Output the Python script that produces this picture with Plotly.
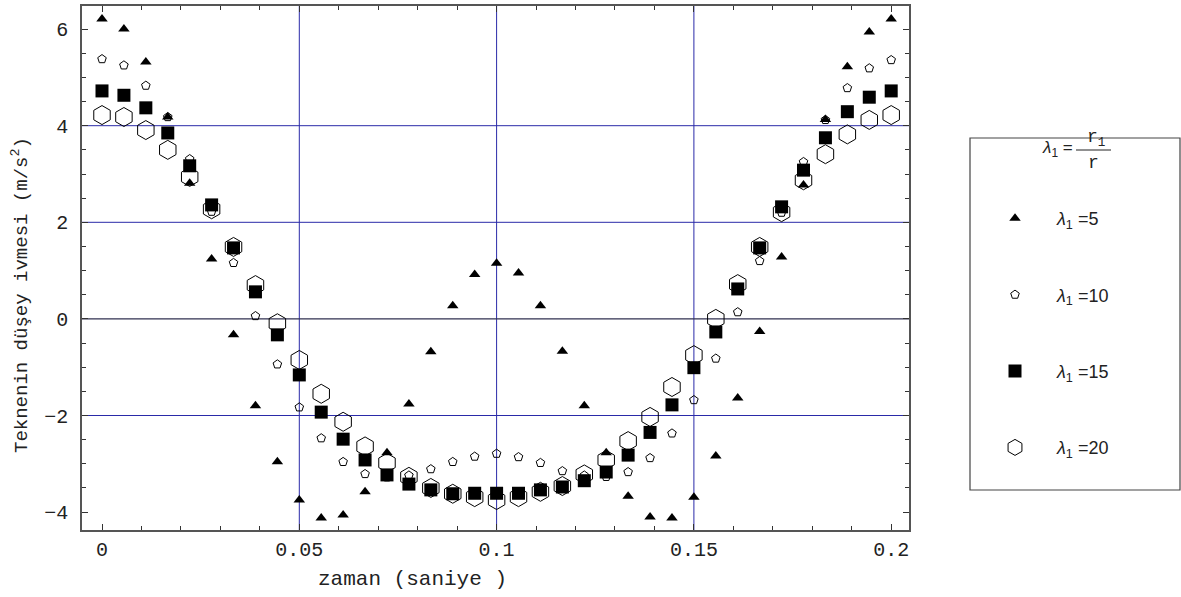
import plotly.graph_objects as go

N = 37
t = [round(i * 0.2 / 36, 6) for i in range(N)]

lam5 = [6.21, 6.00, 5.32, 4.18, 2.81, 1.24, -0.33, -1.80, -2.96, -3.75, -4.12, -4.06, -3.58,
        -2.77, -1.76, -0.68, 0.27, 0.92, 1.15, 0.95, 0.27, -0.67, -1.80, -2.77, -3.67, -4.10,
        -4.12, -3.69, -2.84, -1.64, -0.26, 1.28, 2.77, 4.13, 5.22, 5.94, 6.21]
lam10 = [5.38, 5.25, 4.83, 4.18, 3.31, 2.22, 1.16, 0.06, -0.94, -1.83, -2.47, -2.96, -3.21,
         -3.28, -3.24, -3.11, -2.96, -2.85, -2.79, -2.86, -2.98, -3.15, -3.24, -3.27, -3.17,
         -2.88, -2.37, -1.68, -0.82, 0.14, 1.20, 2.20, 3.25, 4.12, 4.78, 5.19, 5.36]
lam15 = [4.72, 4.63, 4.37, 3.85, 3.17, 2.36, 1.47, 0.56, -0.33, -1.16, -1.93, -2.49, -2.92,
         -3.23, -3.42, -3.54, -3.62, -3.61, -3.61, -3.61, -3.54, -3.48, -3.35, -3.17, -2.82,
         -2.35, -1.78, -1.01, -0.27, 0.62, 1.47, 2.32, 3.08, 3.75, 4.29, 4.59, 4.72]
lam20 = [4.22, 4.18, 3.91, 3.50, 2.94, 2.27, 1.49, 0.70, -0.09, -0.85, -1.55, -2.13, -2.64,
         -2.98, -3.27, -3.50, -3.62, -3.69, -3.75, -3.69, -3.58, -3.46, -3.22, -2.92, -2.53,
         -2.03, -1.41, -0.75, 0.00, 0.72, 1.49, 2.21, 2.87, 3.41, 3.82, 4.12, 4.22]

series_names = ["<i>λ</i><sub>1</sub> =5", "<i>λ</i><sub>1</sub> =10",
                "<i>λ</i><sub>1</sub> =15", "<i>λ</i><sub>1</sub> =20"]

x_ticks = [0, 0.05, 0.1, 0.15, 0.2]
x_tick_text = ["0", "0.05", "0.1", "0.15", "0.2"]
y_ticks = [-4, -2, 0, 2, 4, 6]
grid_x = [0.05, 0.1, 0.15]
grid_y = [-2, 2, 4]

x_title = "zaman (saniye )"
y_title = "Teknenin düşey ivmesi (m/s<sup>2</sup>)"

W, H = 1181, 597
L, R, T, B = 82, 909, 6, 530

fig = go.Figure()
styles = [
    dict(symbol="triangle-up", size=10, color="black", line=dict(width=0)),
    dict(symbol="pentagon-open", size=9, color="black", line=dict(width=1, color="black")),
    dict(symbol="square", size=13, color="black", line=dict(width=0)),
    dict(symbol="hexagon-open", size=19, color="black", line=dict(width=1, color="black")),
]
for i, (ys, name) in enumerate(zip([lam5, lam10, lam15, lam20], series_names)):
    fig.add_trace(go.Scatter(x=t, y=ys, mode="markers", name=name, marker=styles[i],
                             legendgroup=f"g{i}", showlegend=True))

grid_color = "#2a2aa8"
for gx in grid_x:
    fig.add_shape(type="line", xref="x", yref="paper", x0=gx, x1=gx, y0=0, y1=1,
                  line=dict(color=grid_color, width=1), layer="below")
for gy in grid_y:
    fig.add_shape(type="line", xref="paper", yref="y", x0=0, x1=1, y0=gy, y1=gy,
                  line=dict(color=grid_color, width=1), layer="below")
fig.add_shape(type="line", xref="paper", yref="y", x0=0, x1=1, y0=0, y1=0,
              line=dict(color="#303050", width=1.3), layer="below")

pw, ph = R - L, B - T
def px2x(p):
    return (p - L) / pw
def py2y(p):
    return (B - p) / ph

# legend frame
fig.add_shape(type="rect", xref="paper", yref="paper", x0=px2x(970), x1=px2x(1180),
              y0=py2y(490), y1=py2y(138), line=dict(color="#444444", width=1.2))
# legend title: lambda_1 = r_1 / r
fig.add_annotation(xref="paper", yref="paper", x=px2x(1075), y=py2y(149), xanchor="right",
                   yanchor="middle", showarrow=False,
                   text="<i>λ</i><sub>1</sub> =", font=dict(family="Liberation Sans", size=17, color="#222"))
fig.add_annotation(xref="paper", yref="paper", x=px2x(1096), y=py2y(138), xanchor="center",
                   yanchor="middle", showarrow=False,
                   text="r<sub>1</sub>", font=dict(family="Liberation Mono", size=18, color="#222"))
fig.add_annotation(xref="paper", yref="paper", x=px2x(1093), y=py2y(163), xanchor="center",
                   yanchor="middle", showarrow=False,
                   text="r", font=dict(family="Liberation Mono", size=18, color="#222"))
fig.add_shape(type="line", xref="paper", yref="paper", x0=px2x(1076), x1=px2x(1111),
              y0=py2y(150), y1=py2y(150), line=dict(color="#222", width=1))

fig.add_annotation(xref="paper", yref="paper", x=px2x(412), y=py2y(579), xanchor="center",
                   yanchor="middle", showarrow=False, text=x_title,
                   font=dict(family="Liberation Mono", size=21, color="#222"))
fig.add_annotation(xref="paper", yref="paper", x=px2x(20), y=py2y(295), xanchor="center",
                   yanchor="middle", showarrow=False, text=y_title, textangle=-90,
                   font=dict(family="Liberation Mono", size=19, color="#222"))

axis_common = dict(showline=True, linecolor="#555555", linewidth=1.5, mirror="allticks",
                   ticks="inside", tickcolor="#333", zeroline=False, showgrid=False,
                   tickfont=dict(family="Liberation Mono", size=20, color="#222"))
fig.update_xaxes(range=[(L - 102) / 3946, (R - 102) / 3946], tickvals=x_ticks,
                 ticktext=x_tick_text, ticklen=6, ticklabelstandoff=0,
                 minor=dict(dtick=0.01, tick0=0, ticklen=4, ticks="inside", tickcolor="#333"),
                 **axis_common)
fig.update_yaxes(range=[(318.9 - B) / 48.3, (318.9 - T) / 48.3], tickvals=y_ticks, ticklen=6,
                 ticklabelstandoff=8,
                 minor=dict(dtick=0.5, tick0=0, ticklen=4, ticks="inside", tickcolor="#333"),
                 **axis_common)

fig.update_layout(
    width=W, height=H, margin=dict(l=L, r=W - R, t=T, b=H - B, autoexpand=False),
    paper_bgcolor="white", plot_bgcolor="white",
    legend=dict(x=px2x(973), y=py2y(200), xanchor="left", yanchor="top",
                bgcolor="rgba(0,0,0,0)", borderwidth=0, tracegroupgap=50,
                itemwidth=74, font=dict(family="Liberation Sans", size=18, color="#222")),
)

fig.write_html("out.html", config={"displayModeBar": False},
               post_script="document.body.style.margin='0';")
